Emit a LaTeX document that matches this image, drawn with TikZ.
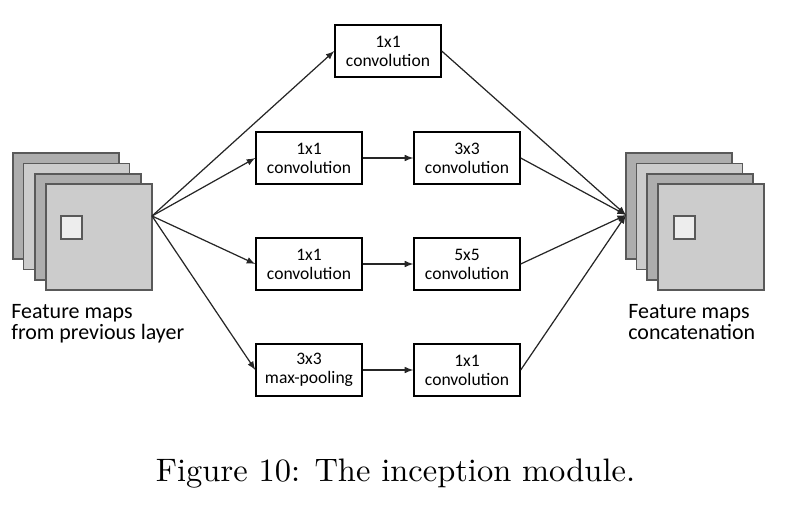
\documentclass[tikz,border=0pt]{standalone}
\usepackage{fontspec}
\newfontfamily\calibri{Carlito}
\newfontfamily\piefont{lmroman10-regular}[Extension=.otf]
\begin{document}
\begin{tikzpicture}[x=0.02cm,y=-0.02cm,
    capa/.style={draw=black,line width=0.8pt,fill=white,minimum width=2.12cm,
      minimum height=1.04cm,align=center,inner sep=1pt,
      font=\calibri\fontsize{10}{10.8}\selectfont},
    etiqueta/.style={align=left,inner sep=0pt,anchor=base west,
      font=\calibri\fontsize{12.5}{11.4}\selectfont},
    flecha/.style={-latex,line width=0.7pt,black!85}]
    \useasboundingbox (0,0) rectangle (786,523);
    % mapas de entrada, cuatro hojas desplazadas
    \foreach \dx/\dy/\c in {0/0/black!32,10.5/10.5/black!20,22/21/black!32,33/31/black!20}
      \filldraw[draw=black!65,line width=0.8pt,fill=\c] (13+\dx,153+\dy) rectangle ++(106,106);
    \filldraw[draw=black!65,line width=0.8pt,fill=black!7] (61,216) rectangle (82,239);
    \coordinate (entrada) at (152,216);
    % mapas de salida, concatenados
    \foreach \dx/\dy/\c in {0/0/black!32,10.5/10.5/black!20,21/21/black!32,32/31/black!20}
      \filldraw[draw=black!65,line width=0.8pt,fill=\c] (626+\dx,153+\dy) rectangle ++(106,106);
    \filldraw[draw=black!65,line width=0.8pt,fill=black!7] (674,216) rectangle (695,239);
    \coordinate (salida) at (626,215);
    % las cuatro ramas del modulo
    \node[capa] (c1) at (388,51) {1x1\\convolution};
    \node[capa] (r1) at (309,158) {1x1\\convolution};
    \node[capa] (r3) at (467,158) {3x3\\convolution};
    \node[capa] (q1) at (309,264) {1x1\\convolution};
    \node[capa] (q5) at (467,264) {5x5\\convolution};
    \node[capa] (mp) at (309,370) {3x3\\max-pooling};
    \node[capa] (m1) at (467,370) {1x1\\convolution};
    % de la entrada a cada rama
    \foreach \n in {c1,r1,q1,mp}
      \draw[flecha] (entrada) -- (\n.west);
    \draw[flecha] (r1) -- (r3);
    \draw[flecha] (q1) -- (q5);
    \draw[flecha] (mp) -- (m1);
    % de cada rama a la concatenacion
    \foreach \n in {c1,r3,q5,m1}
      \draw[flecha] (\n.east) -- (salida);
    % textos
    \node[etiqueta] (tizq) at (11,339) {Feature maps\\from previous layer};
    \node[etiqueta] (tder) at (628,339) {Feature maps\\concatenation};
    \node[anchor=base,inner sep=0pt,font=\piefont\fontsize{18.5}{22}\selectfont] (pie) at (395.5,481)
      {Figure 10: The inception module.};
\end{tikzpicture}
\end{document}
